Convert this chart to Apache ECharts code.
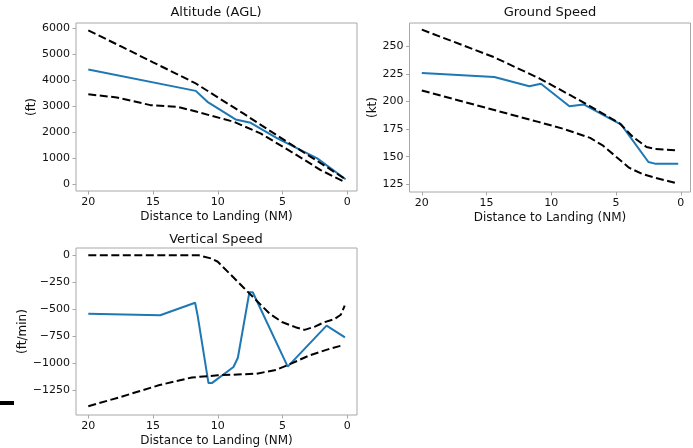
<!DOCTYPE html>
<html>
<head>
<meta charset="utf-8">
<script src="https://cdn.jsdelivr.net/npm/echarts@6/dist/echarts.min.js"></script>
<style>
html,body{margin:0;padding:0;background:#fff;}
#chart{width:693px;height:448px;}
</style>
</head>
<body>
<div id="chart"></div>
<script>
// ---- Data ----
const xTicks = [0, 5, 10, 15, 20];

// Altitude (AGL)
const altUpperX = [20, 17.5, 15, 13, 11.7, 10, 8, 6, 4, 2, 0.15];
const altUpperY = [5930, 5320, 4700, 4210, 3885, 3350, 2720, 2070, 1430, 800, 200];
const altLowerX = [20, 17.8, 16.5, 15.2, 13.1, 11.6, 8.76, 6.7, 4.12, 2.06, 0.26];
const altLowerY = [3470, 3346, 3200, 3050, 2985, 2792, 2408, 1962, 1192, 550, 100];
const altX = [20, 11.7, 10.8, 8.63, 7.46, 5.4, 2.32, 0.13];
const altY = [4420, 3600, 3177, 2500, 2370, 1770, 1000, 192];
const altTicks = [0, 1000, 2000, 3000, 4000, 5000, 6000];

// Ground Speed
const gsUpperX = [20, 14.5, 10.9, 7.8, 4.7, 3.7, 2.65, 2, 0.33];
const gsUpperY = [265.1, 240.5, 220.8, 201, 180, 167.9, 158.8, 157, 155.8];
const gsLowerX = [20, 17, 14, 11, 9, 8, 7, 6, 5, 4, 3, 2, 1, 0.2];
const gsLowerY = [210, 200.5, 191, 181.5, 175, 171, 167, 160, 150, 140, 134.5, 131, 128, 125.5];
const gsX = [20, 14.4, 11.7, 10.8, 8.6, 7.5, 4.6, 2.5, 2.0, 0.2];
const gsY = [225.8, 222.2, 213.8, 216, 195.7, 197.3, 179, 145.2, 143.7, 143.7];
const gsTicks = [125, 150, 175, 200, 225, 250];

// Vertical Speed
const vsUpperX = [20, 11.5, 10.5, 10, 9, 8, 7, 6, 5, 4, 3.3, 2.5, 1.8, 1, 0.5, 0.2];
const vsUpperY = [0, 0, -30, -60, -180, -300, -420, -540, -620, -665, -690, -660, -620, -590, -550, -465];
const vsLowerX = [20, 17.5, 14.5, 12, 10, 8, 7, 5.5, 4.3, 3, 1.5, 0.3];
const vsLowerY = [-1396, -1310, -1200, -1130, -1110, -1100, -1095, -1060, -1000, -930, -870, -830];
const vsX = [20, 14.45, 11.75, 11.54, 10.72, 10.46, 8.79, 8.45, 7.56, 7.3, 4.6, 1.6, 0.18];
const vsY = [-542, -555, -439, -569, -1182, -1182, -1033, -948, -342, -342, -1030, -651, -760];
const vsTicks = [-1250, -1000, -750, -500, -250, 0];

// ---- Chart ----
const FONT = 'DejaVu Sans';
const FRAME = '#a8a8a8';
const TXT = '#111';
const pairs = (xs, ys) => xs.map((x, i) => [x, ys[i]]);

const grids = [
  {left: 76, top: 23, width: 281, height: 168},
  {left: 409.5, top: 23, width: 281, height: 169},
  {left: 76, top: 248, width: 281, height: 170}
];

function xAxisFor(i) {
  return {
    type: 'value', gridIndex: i, inverse: true, min: -0.75, max: 20.95, position: 'bottom',
    name: 'Distance to Landing (NM)', nameLocation: 'middle', nameGap: 20,
    nameTextStyle: {fontFamily: FONT, fontSize: 12, color: TXT},
    axisLine: {show: false, onZero: false},
    splitLine: {show: false},
    axisTick: {show: true, inside: false, length: 3.5, lineStyle: {color: FRAME}, customValues: xTicks},
    axisLabel: {fontFamily: FONT, fontSize: 11, color: TXT, margin: 6, customValues: xTicks}
  };
}
function yAxisFor(i, min, max, ticks, name, gap) {
  return {
    type: 'value', gridIndex: i, min: min, max: max, position: 'left',
    name: name, nameLocation: 'middle', nameGap: gap, nameRotate: 90,
    nameTextStyle: {fontFamily: FONT, fontSize: 12, color: TXT},
    axisLine: {show: false, onZero: false},
    splitLine: {show: false},
    axisTick: {show: true, inside: false, length: 3.5, lineStyle: {color: FRAME}, customValues: ticks},
    axisLabel: {fontFamily: FONT, fontSize: 11, color: TXT, margin: 6, customValues: ticks,
      formatter: v => String(v).replace('-', '\u2212')}
  };
}
function dashed(i, xs, ys) {
  return {type: 'line', xAxisIndex: i, yAxisIndex: i, data: pairs(xs, ys), showSymbol: false, symbol: 'none',
    lineStyle: {color: '#000', width: 2, type: [8, 3.5]}, z: 3};
}
function solid(i, xs, ys) {
  return {type: 'line', xAxisIndex: i, yAxisIndex: i, data: pairs(xs, ys), showSymbol: false, symbol: 'none',
    lineStyle: {color: '#1f77b4', width: 2}, z: 2};
}

const titleStyle = {fontFamily: FONT, fontSize: 13, fontWeight: 'normal', color: TXT};
const chart = echarts.init(document.getElementById('chart'), null, {renderer: 'canvas'});
chart.setOption({
  animation: false,
  backgroundColor: '#fff',
  title: [
    {text: 'Altitude (AGL)', left: 216, top: 6, padding: 0, textAlign: 'center', textStyle: titleStyle},
    {text: 'Ground Speed', left: 550, top: 6, padding: 0, textAlign: 'center', textStyle: titleStyle},
    {text: 'Vertical Speed', left: 216, top: 233, padding: 0, textAlign: 'center', textStyle: titleStyle}
  ],
  grid: grids.map(g => Object.assign({show: true, borderColor: FRAME, borderWidth: 1, backgroundColor: 'transparent'}, g)),
  xAxis: [xAxisFor(0), xAxisFor(1), xAxisFor(2)],
  yAxis: [
    yAxisFor(0, -258, 6215, altTicks, '(ft)', 36),
    yAxisFor(1, 118, 271.1, gsTicks, '(kt)', 30),
    yAxisFor(2, -1477, 67, vsTicks, '(ft/min)', 41)
  ],
  series: [
    dashed(0, altUpperX, altUpperY), dashed(0, altLowerX, altLowerY), solid(0, altX, altY),
    dashed(1, gsUpperX, gsUpperY), dashed(1, gsLowerX, gsLowerY), solid(1, gsX, gsY),
    dashed(2, vsUpperX, vsUpperY), dashed(2, vsLowerX, vsLowerY), solid(2, vsX, vsY)
  ],
  graphic: [
    {type: 'rect', shape: {x: 0, y: 401, width: 14, height: 4}, style: {fill: '#000'}}
  ]
});
</script>
</body>
</html>
